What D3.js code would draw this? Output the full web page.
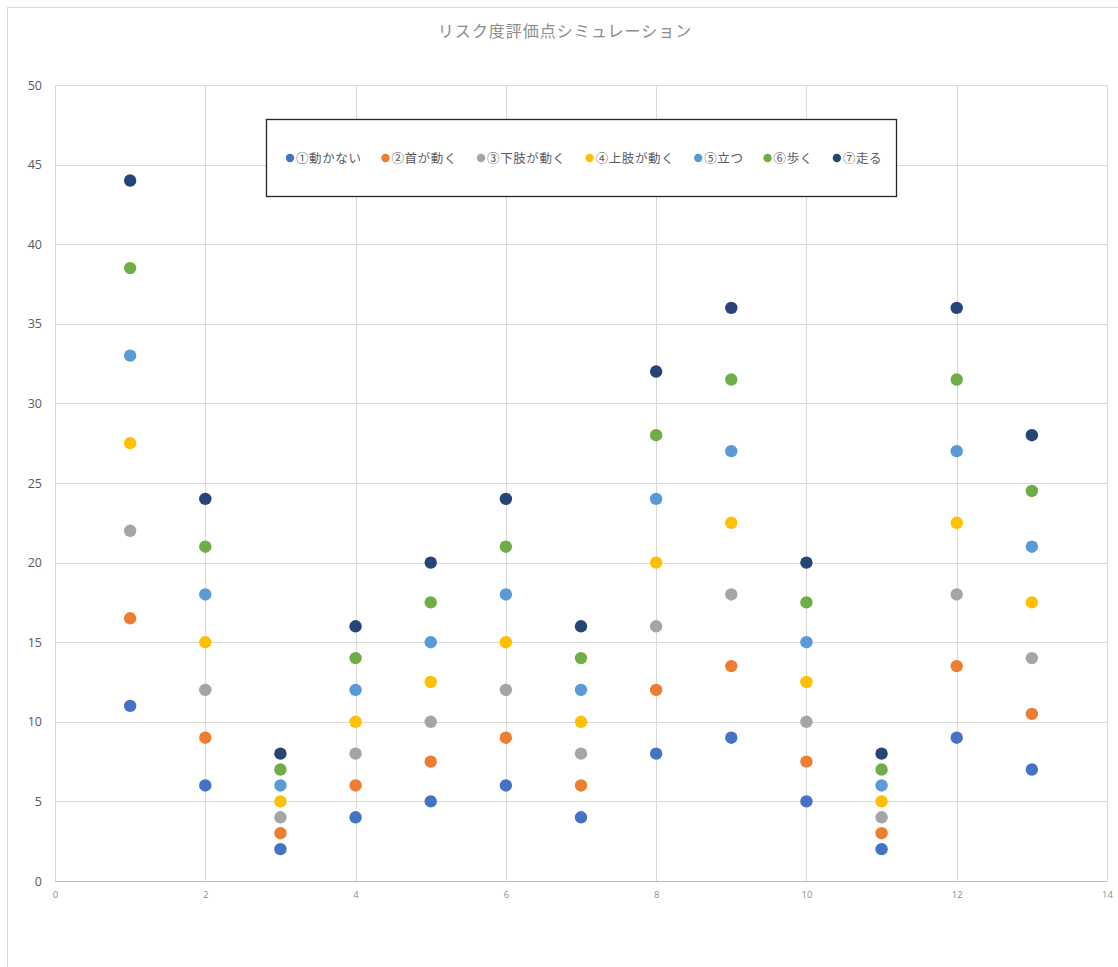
<!DOCTYPE html>
<html>
<head>
<meta charset="utf-8">
<script src="https://cdn.jsdelivr.net/npm/d3@7"></script>
<style>
  html, body { margin: 0; padding: 0; background: #fff; }
  svg { display: block; }
</style>
</head>
<body>
<svg id="chart" width="1118" height="967"></svg>
<script>
// Risk score simulation: seven movement levels across 13 cases
const xValues = [1, 2, 3, 4, 5, 6, 7, 8, 9, 10, 11, 12, 13];
const seriesNames = ["①動かない", "②首が動く", "③下肢が動く", "④上肢が動く", "⑤立つ", "⑥歩く", "⑦走る"];
const s1 = [11, 6, 2, 4, 5, 6, 4, 8, 9, 5, 2, 9, 7];
const s2 = [16.5, 9, 3, 6, 7.5, 9, 6, 12, 13.5, 7.5, 3, 13.5, 10.5];
const s3 = [22, 12, 4, 8, 10, 12, 8, 16, 18, 10, 4, 18, 14];
const s4 = [27.5, 15, 5, 10, 12.5, 15, 10, 20, 22.5, 12.5, 5, 22.5, 17.5];
const s5 = [33, 18, 6, 12, 15, 18, 12, 24, 27, 15, 6, 27, 21];
const s6 = [38.5, 21, 7, 14, 17.5, 21, 14, 28, 31.5, 17.5, 7, 31.5, 24.5];
const s7 = [44, 24, 8, 16, 20, 24, 16, 32, 36, 20, 8, 36, 28];
const seriesColors = ["#4472C4", "#ED7D31", "#A5A5A5", "#FFC000", "#5B9BD5", "#70AD47", "#264478"];
const xTicks = [0, 2, 4, 6, 8, 10, 12, 14];
const yTicks = [0, 5, 10, 15, 20, 25, 30, 35, 40, 45, 50];
const titleText = "リスク度評価点シミュレーション";

const allSeries = [s1, s2, s3, s4, s5, s6, s7];

const svg = d3.select("#chart");
const jp = "'Noto Sans CJK JP', 'Noto Sans', sans-serif";
const num = "'Open Sans', 'Noto Sans', sans-serif";

// chart area frame
svg.append("rect")
  .attr("x", 7.5).attr("y", 7.5)
  .attr("width", 1130).attr("height", 980)
  .attr("fill", "#fff").attr("stroke", "#d9d9d9").attr("stroke-width", 1);

const plot = { left: 55, right: 1107, top: 85, bottom: 881 };

const x = d3.scaleLinear().domain([0, 14]).range([plot.left, plot.right]);
const y = d3.scaleLinear().domain([0, 50]).range([plot.bottom, plot.top]);

// gridlines
const grid = svg.append("g");
grid.selectAll("line.h").data(yTicks.filter(d => d > 0)).join("line")
  .attr("x1", plot.left).attr("x2", plot.right)
  .attr("y1", d => Math.round(y(d)) + 0.5).attr("y2", d => Math.round(y(d)) + 0.5)
  .attr("stroke", "#d9d9d9").attr("stroke-width", 1);
grid.selectAll("line.v").data(xTicks).join("line")
  .attr("y1", plot.top).attr("y2", plot.bottom)
  .attr("x1", d => Math.round(x(d)) + 0.5).attr("x2", d => Math.round(x(d)) + 0.5)
  .attr("stroke", "#d9d9d9").attr("stroke-width", 1);

// axes
const yAxis = svg.append("g")
  .attr("transform", `translate(${plot.left},0)`)
  .call(d3.axisLeft(y).tickValues(yTicks).tickSize(0).tickPadding(13));
yAxis.select(".domain").remove();
yAxis.selectAll("text").attr("font-family", num).attr("font-size", 12.5).attr("fill", "#595959");

const xAxis = svg.append("g")
  .attr("transform", `translate(0,${plot.bottom})`)
  .call(d3.axisBottom(x).tickValues(xTicks).tickSize(0).tickPadding(10));
xAxis.select(".domain")
  .attr("stroke", "#bfbfbf").attr("stroke-width", 1.2)
  .attr("d", `M${plot.left},0.5H${plot.right}`);
xAxis.selectAll("text").attr("font-family", num).attr("font-size", 9.5).attr("fill", "#8c8c8c");

// points
const pts = svg.append("g");
allSeries.forEach((vals, i) => {
  pts.append("g").selectAll("circle").data(vals).join("circle")
    .attr("cx", (d, j) => x(xValues[j]))
    .attr("cy", d => y(d))
    .attr("r", 6.2)
    .attr("fill", seriesColors[i]);
});

// title
svg.append("text")
  .attr("x", 565).attr("y", 37)
  .attr("text-anchor", "middle")
  .attr("font-family", jp).attr("font-size", 16)
  .attr("letter-spacing", 1)
  .attr("fill", "#8c8c8c")
  .text(titleText);

// legend
const lg = svg.append("g");
lg.append("rect")
  .attr("x", 266.5).attr("y", 119.5).attr("width", 630).attr("height", 77)
  .attr("fill", "#fff").attr("stroke", "#262626").attr("stroke-width", 1.3);

let cx = 290;
const ly = 158;
seriesNames.forEach((name, i) => {
  lg.append("circle").attr("cx", cx).attr("cy", ly).attr("r", 4.2).attr("fill", seriesColors[i]);
  const t = lg.append("text")
    .attr("x", cx + 6).attr("y", ly + 4.5)
    .attr("font-family", jp).attr("font-size", 12.5)
    .attr("letter-spacing", 0.6)
    .attr("fill", "#595959")
    .text(name);
  const w = t.node().getComputedTextLength();
  cx = cx + 6 + w + 24;
});
</script>
</body>
</html>
